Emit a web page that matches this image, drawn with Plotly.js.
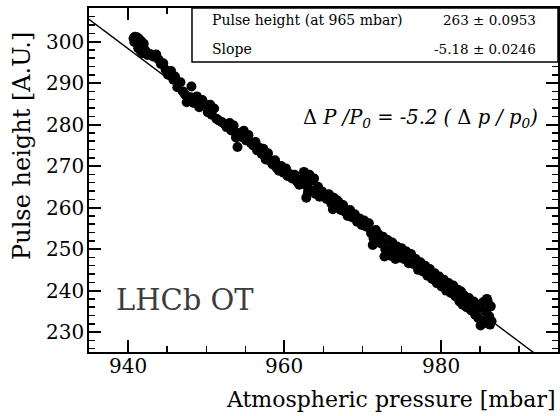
<!DOCTYPE html>
<html>
<head>
<meta charset="utf-8">
<script src="https://cdn.plot.ly/plotly-3.0.1.min.js"></script>
<style>
  html, body { margin: 0; padding: 0; background: #fff; }
  #chart { width: 560px; height: 416px; }
</style>
</head>
<body>
<div id="chart"></div>
<script>
// measured points: atmospheric pressure [mbar] and pulse height [A.U.]
var pressure = [
  940.7, 940.9, 941.0, 941.2, 941.1, 940.8, 941.4, 941.5, 941.3, 941.7,
  941.8, 941.6, 942.0, 942.1, 941.9, 942.3, 942.5, 942.8, 943.2, 943.6,
  943.9, 944.2, 944.5, 944.8, 945.1, 945.5, 945.8, 946.0, 946.3, 946.7,
  947.0, 947.3, 947.5, 948.1, 948.0, 948.4, 948.8, 949.1, 949.5, 949.8,
  950.2, 950.5, 950.7, 951.0, 951.3, 951.6, 952.0, 952.3, 952.6, 953.0,
  953.2, 953.5, 953.8, 954.0, 954.2, 954.5, 954.8, 955.1, 955.4, 955.7,
  956.0, 956.3, 956.5, 956.8, 957.1, 957.3, 957.6, 957.9, 958.2, 958.5,
  958.8, 959.0, 959.3, 959.6, 959.9, 960.2, 960.4, 960.7, 961.0, 961.3,
  961.6, 961.9, 962.1, 962.4, 962.5, 962.7, 962.8, 962.9, 963.0, 963.2,
  963.4, 963.7, 963.8, 964.0, 964.3, 964.5, 964.8, 965.1, 965.4, 965.7,
  966.0, 966.2, 966.3, 966.6, 966.7, 966.9, 967.2, 967.5, 967.8, 968.1,
  968.4, 968.7, 969.0, 969.3, 969.6, 969.9, 970.2, 970.5, 970.8, 971.1,
  971.3, 971.4, 971.7, 971.8, 972.0, 972.3, 972.6, 972.8, 972.9, 973.2,
  973.5, 973.6, 973.8, 974.1, 974.2, 974.4, 974.7, 975.0, 975.3, 975.6,
  975.9, 976.2, 976.5, 976.8, 977.1, 977.4, 977.7, 978.0, 978.3, 978.6,
  978.9, 979.2, 979.5, 979.8, 980.1, 980.4, 980.7, 981.0, 981.3, 981.6,
  981.9, 982.2, 982.4, 982.6, 982.8, 983.0, 983.3, 983.6, 983.9, 984.2,
  984.4, 984.6, 984.8, 985.0, 985.2, 985.4, 985.6, 985.8, 986.0, 986.2,
  986.4, 986.5, 985.9, 986.3, 985.1
];
var pulseHeight = [
  300.8, 301.2, 300.4, 301.0, 299.6, 299.9, 300.6, 299.2, 298.4, 300.1,
  298.9, 297.8, 299.5, 298.0, 297.2, 297.6, 296.8, 297.0, 296.4, 296.9,
  295.7, 294.6, 294.8, 293.2, 292.0, 292.9, 290.8, 291.6, 289.0, 290.2,
  288.0, 287.2, 285.4, 289.2, 286.6, 285.2, 286.8, 284.2, 285.9, 284.9,
  283.0, 284.8, 282.4, 283.9, 281.4, 281.0, 280.6, 280.2, 279.4, 280.4,
  278.6, 279.8, 276.9, 274.6, 278.0, 277.0, 278.5, 276.2, 277.5, 275.6,
  275.0, 275.8, 273.8, 274.4, 272.9, 274.2, 271.6, 273.1, 271.2, 270.4,
  271.4, 269.6, 268.9, 270.0, 268.4, 269.4, 267.6, 268.1, 267.0, 267.9,
  266.3, 265.5, 266.8, 266.0, 268.6, 267.3, 262.4, 265.1, 263.6, 267.9,
  266.4, 264.0, 267.0, 263.3, 265.0, 262.6, 263.9, 262.9, 262.1, 263.2,
  261.0, 259.6, 262.4, 260.4, 261.8, 261.4, 259.4, 260.6, 258.9, 258.0,
  259.4, 257.6, 258.4, 256.6, 257.4, 255.8, 256.9, 255.4, 256.2, 253.8,
  251.0, 252.6, 254.6, 251.9, 253.6, 251.4, 253.0, 248.2, 250.0, 252.2,
  249.6, 248.4, 251.6, 249.0, 247.6, 250.6, 248.0, 250.2, 247.6, 249.4,
  246.6, 248.8, 246.4, 247.6, 245.0, 246.8, 244.6, 246.0, 243.6, 245.2,
  242.8, 244.2, 241.8, 243.4, 241.0, 242.6, 240.0, 241.8, 239.4, 241.2,
  238.6, 240.2, 237.4, 239.8, 236.6, 238.8, 236.0, 238.2, 235.2, 237.4,
  234.2, 236.6, 233.4, 236.0, 232.8, 237.2, 232.2, 235.0, 237.4, 233.8,
  236.2, 232.6, 238.0, 231.8, 231.6
];

var xTickVals = [940, 960, 980];
var yTickVals = [230, 240, 250, 260, 270, 280, 290, 300];

// fit parameters from the stats box
var fitP0 = 263;          // pulse height at reference pressure
var fitRefPressure = 965; // mbar
var fitSlope = -5.18;     // relative slope
var fitRange = [935, 995];

var absSlope = fitSlope * fitP0 / fitRefPressure;
var fitY = fitRange.map(function (p) { return fitP0 + absSlope * (p - fitRefPressure); });

var serif = "DejaVu Serif";

var data = [
  {
    type: "scatter",
    mode: "lines",
    x: fitRange,
    y: fitY,
    line: { color: "black", width: 1.4 },
    hoverinfo: "none",
  },
  {
    type: "scatter",
    mode: "markers",
    x: pressure,
    y: pulseHeight,
    marker: { color: "black", size: 10, line: { width: 0 } },
    hoverinfo: "none",
  },
];

var axisCommon = {
  ticks: "inside",
  ticklen: 12,
  tickwidth: 2,
  tickcolor: "black",
  showline: true,
  linewidth: 2,
  linecolor: "black",
  mirror: "ticks",
  showgrid: false,
  zeroline: false,
  showticklabels: false,
};

var layout = {
  width: 560,
  height: 416,
  showlegend: false,
  paper_bgcolor: "white",
  plot_bgcolor: "white",
  margin: { l: 89, r: 2, t: 8, b: 64 },
  font: { family: serif, color: "black" },
  xaxis: Object.assign({}, axisCommon, {
    range: [935, 995],
    tickvals: xTickVals,
    minor: { dtick: 5, ticks: "inside", ticklen: 6, tickwidth: 1.5, tickcolor: "black" },
  }),
  yaxis: Object.assign({}, axisCommon, {
    range: [225.2, 308.1],
    tickvals: yTickVals,
    minor: { dtick: 2, ticks: "inside", ticklen: 6, tickwidth: 1.5, tickcolor: "black" },
  }),
  shapes: [
    {
      type: "rect", xref: "paper", yref: "paper",
      x0: 0.2196, x1: 1, y0: 0.843, y1: 1,
      line: { color: "black", width: 1.5 },
      fillcolor: "white",
    },
  ],
  annotations: [
    {
      xref: "paper", yref: "paper", x: 0.258, y: 0.965,
      xanchor: "left", yanchor: "middle", showarrow: false,
      text: "Pulse height (at 965 mbar)",
      font: { family: serif, size: 14 },
    },
    {
      xref: "paper", yref: "paper", x: 0.957, y: 0.965,
      xanchor: "right", yanchor: "middle", showarrow: false,
      text: "263 ± 0.0953",
      font: { family: serif, size: 13.5 },
    },
    {
      xref: "paper", yref: "paper", x: 0.258, y: 0.881,
      xanchor: "left", yanchor: "middle", showarrow: false,
      text: "Slope",
      font: { family: serif, size: 14 },
    },
    {
      xref: "paper", yref: "paper", x: 0.957, y: 0.881,
      xanchor: "right", yanchor: "middle", showarrow: false,
      text: "-5.18 ± 0.0246",
      font: { family: serif, size: 13.5 },
    },
    {
      xref: "paper", yref: "paper", x: 0.962, y: 0.68,
      xanchor: "right", yanchor: "middle", showarrow: false,
      text: "Δ <i>P /P<sub>0</sub></i> = <i>-5.2 (</i> Δ <i>p / p<sub>0</sub>)</i>",
      font: { family: serif, size: 19.5 },
    },
    {
      xref: "paper", yref: "paper", x: 0.053, y: 0.151,
      xanchor: "left", yanchor: "middle", showarrow: false,
      text: "LHCb OT",
      font: { family: serif, size: 29, color: "#3c3c3c" },
    },
    {
      xref: "paper", yref: "paper", x: 1, y: -0.1395,
      xanchor: "right", yanchor: "middle", showarrow: false,
      text: "Atmospheric pressure [mbar]",
      font: { family: serif, size: 22 },
    },
    {
      xref: "paper", yref: "paper", x: -0.143, y: 0.936,
      xanchor: "center", yanchor: "top", showarrow: false,
      textangle: -90,
      text: "Pulse height [A.U.]",
      font: { family: serif, size: 24 },
    },
  ],
};

// tick labels drawn at the axis tick values
xTickVals.forEach(function (v) {
  layout.annotations.push({
    xref: "x", yref: "paper", x: v, y: -0.04,
    xanchor: "center", yanchor: "middle", showarrow: false,
    text: String(v),
    font: { family: serif, size: 20 },
  });
});
yTickVals.forEach(function (v) {
  layout.annotations.push({
    xref: "paper", yref: "y", x: -0.006, y: v,
    xanchor: "right", yanchor: "middle", showarrow: false,
    text: String(v),
    font: { family: serif, size: 20 },
  });
});

Plotly.newPlot("chart", data, layout, { displayModeBar: false, staticPlot: true });
</script>
</body>
</html>
